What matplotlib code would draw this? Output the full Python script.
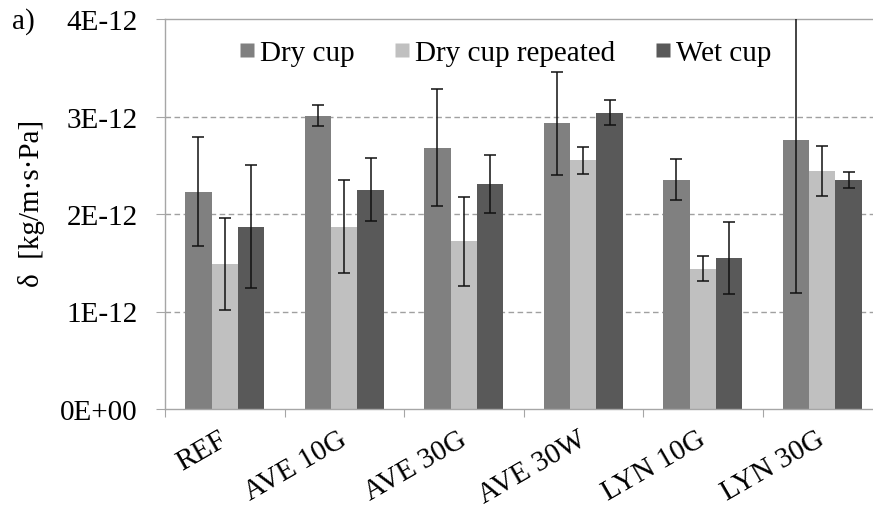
import matplotlib
matplotlib.use("Agg")
import matplotlib.pyplot as plt
from matplotlib.lines import Line2D
from matplotlib.ticker import FixedLocator, FuncFormatter
import numpy as np

categories = ["REF", "AVE 10G", "AVE 30G", "AVE 30W", "LYN 10G", "LYN 30G"]
series_names = ["Dry cup", "Dry cup repeated", "Wet cup"]
dry_cup = [2.23e-12, 3.01e-12, 2.68e-12, 2.93e-12, 2.35e-12, 2.76e-12]
dry_cup_err = [0.56e-12, 0.11e-12, 0.60e-12, 0.53e-12, 0.21e-12, 1.57e-12]
dry_rep = [1.49e-12, 1.87e-12, 1.72e-12, 2.55e-12, 1.44e-12, 2.44e-12]
dry_rep_err = [0.47e-12, 0.48e-12, 0.455e-12, 0.14e-12, 0.125e-12, 0.26e-12]
wet_cup = [1.87e-12, 2.25e-12, 2.31e-12, 3.04e-12, 1.55e-12, 2.35e-12]
wet_cup_err = [0.63e-12, 0.32e-12, 0.30e-12, 0.13e-12, 0.37e-12, 0.08e-12]
y_ticks = [0, 1e-12, 2e-12, 3e-12, 4e-12]

colors = ["#808080", "#c0c0c0", "#595959"]
axis_gray = "#a6a6a6"
FS = 21

plt.rcParams["font.family"] = ["Liberation Serif", "DejaVu Serif"]

W, H = 873, 510
fig = plt.figure(figsize=(W / 100, H / 100), dpi=100)
ax = fig.add_axes([165 / W, 100 / H, 717 / W, 390 / H])

x = np.arange(len(categories))
bw = 0.22
vals = [dry_cup, dry_rep, wet_cup]
errs = [dry_cup_err, dry_rep_err, wet_cup_err]
for i, (v, e) in enumerate(zip(vals, errs)):
    pos = x + (i - 1) * bw
    ax.bar(pos, v, width=bw, color=colors[i], edgecolor="none", zorder=2)
    ax.errorbar(pos, v, yerr=e, fmt="none", ecolor="#111111", elinewidth=1.1,
                capsize=4, capthick=1.1, zorder=3)

ax.set_xlim(-0.5, len(categories) - 0.5)
ax.set_ylim(y_ticks[0], y_ticks[-1])

ax.yaxis.set_major_locator(FixedLocator(y_ticks))
ax.yaxis.set_major_formatter(FuncFormatter(
    lambda v, p: "0E+00" if v == 0 else f"{v / 1e-12:.0f}E-12"))
ax.tick_params(axis="y", direction="out", length=6.5, width=0.8, color=axis_gray,
               labelsize=FS, pad=13)

ax.xaxis.set_major_locator(FixedLocator(np.arange(len(categories) + 1) - 0.5))
ax.xaxis.set_minor_locator(FixedLocator(x - 0.05))
ax.xaxis.set_major_formatter(FuncFormatter(lambda v, p: ""))
ax.xaxis.set_minor_formatter(FuncFormatter(
    lambda v, p: categories[int(round(v))] if 0 <= int(round(v)) < len(categories) else ""))
ax.tick_params(axis="x", which="major", direction="out", length=6, width=0.8, color=axis_gray)
ax.tick_params(axis="x", which="minor", length=0, labelsize=FS, pad=12)
for lab in ax.xaxis.get_minorticklabels():
    lab.set_rotation(30)
    lab.set_ha("right")
    lab.set_va("top")
    lab.set_rotation_mode("anchor")

for yv in y_ticks[1:-1]:
    ax.axhline(yv, color="#a0a0a0", lw=1.0, linestyle=(0, (4, 2.5)), zorder=1)

for s in ["left", "bottom", "top"]:
    ax.spines[s].set_color(axis_gray)
    ax.spines[s].set_linewidth(1.0)
ax.spines["right"].set_visible(False)

handles = [Line2D([], [], marker="s", linestyle="none", markersize=10,
                  markerfacecolor=c, markeredgecolor="none") for c in colors]
fig.legend(handles, series_names, loc="upper left", ncol=3, frameon=False,
           bbox_to_anchor=(224 / W, 1 - 29 / H), fontsize=FS,
           handletextpad=0.05, columnspacing=1.22, borderaxespad=0, handlelength=0.8)

fig.text(12 / W, 1 - 22 / H, "a)", fontsize=FS, ha="left", va="center")
fig.text(32 / W, 1 - 203 / H, "δ  [kg/m·s·Pa]", fontsize=FS, rotation=90,
         ha="center", va="center")

fig.savefig("out.png", dpi=100)
